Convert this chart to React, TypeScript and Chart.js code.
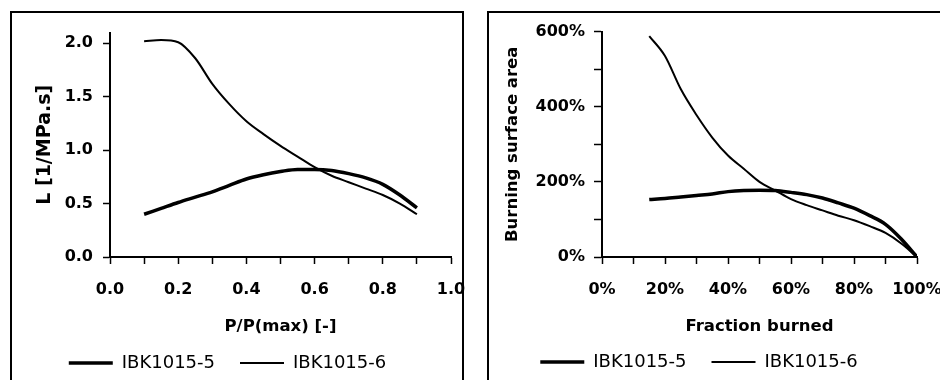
import React, { useEffect, useRef } from 'react';
import { Chart, registerables } from 'chart.js';

Chart.register(...registerables);

// ---------- data ----------
const seriesNames = ['IBK1015-5', 'IBK1015-6'];

// Left panel: L vs P/P(max)
const pressureRatio = [0.1, 0.15, 0.2, 0.25, 0.3, 0.35, 0.4, 0.45, 0.5, 0.55, 0.6, 0.65, 0.7, 0.75, 0.8, 0.85, 0.9];
const lossIBK5 = [0.4, 0.455, 0.51, 0.56, 0.61, 0.67, 0.73, 0.77, 0.8, 0.82, 0.82, 0.81, 0.78, 0.74, 0.68, 0.58, 0.46];
const lossIBK6 = [2.02, 2.03, 2.01, 1.86, 1.62, 1.43, 1.27, 1.15, 1.04, 0.94, 0.84, 0.76, 0.7, 0.64, 0.58, 0.5, 0.4];
const leftYTicks = [0, 0.5, 1.0, 1.5, 2.0];

// Right panel: burning surface area (%) vs fraction burned (%)
const fractionBurned = [15, 20, 25, 30, 35, 40, 45, 50, 55, 60, 65, 70, 75, 80, 85, 90, 95, 100];
const surfaceIBK5 = [153, 156, 160, 164, 168, 174, 177, 178, 177, 172, 166, 157, 144, 130, 110, 87, 48, 0];
const surfaceIBK6 = [588, 535, 447, 378, 318, 270, 235, 200, 177, 154, 138, 124, 110, 98, 82, 64, 36, 0];

const leftTitles = { x: 'P/P(max) [-]', y: 'L [1/MPa.s]' };
const rightTitles = { x: 'Fraction burned', y: 'Burning surface area' };

// ---------- helpers ----------
const FAMILY = "'DejaVu Sans', sans-serif";
const lineWidths = [3.5, 2];

function makeLegendShift(dx: number, dy: number) {
  return {
    id: 'legendShift',
    afterLayout(chart: any) {
      const l = chart.legend;
      if (!l) return;
      l.left += dx;
      l.right += dx;
      l.top += dy;
      l.bottom += dy;
    },
  };
}

function buildDatasets(xs: number[], a: number[], b: number[]) {
  return [a, b].map((ys, i) => ({
    label: seriesNames[i],
    data: xs.map((x, j) => ({ x, y: ys[j] })),
    borderColor: '#000',
    backgroundColor: '#000',
    borderWidth: lineWidths[i],
    pointRadius: 0,
    pointStyle: 'line',
    cubicInterpolationMode: 'monotone' as const,
    fill: false,
  }));
}

function axisCommon() {
  return {
    type: 'linear' as const,
    border: { display: true, color: '#000', width: 2 },
    grid: { display: true, drawOnChartArea: false, drawTicks: true, tickLength: 7, tickColor: '#000', tickWidth: 1.5 },
  };
}

function legendOpts() {
  return {
    display: true,
    position: 'bottom' as const,
    labels: {
      usePointStyle: true,
      pointStyle: 'line',
      pointStyleWidth: 44,
      padding: 25,
      color: '#000',
      font: { family: FAMILY, size: 18, weight: 'normal' as const },
    },
  };
}

// x tick labels: label centre = axis + tick + lineHeight/2 (no extra padding, so no extra right overhang)
const xTickFont = { family: FAMILY, size: 16, weight: 'bold', lineHeight: 3.25 };

function LeftChart() {
  const ref = useRef<HTMLCanvasElement>(null);
  useEffect(() => {
    const chart = new Chart(ref.current!, {
      type: 'line',
      data: { datasets: buildDatasets(pressureRatio, lossIBK5, lossIBK6) as any },
      plugins: [makeLegendShift(-4, -8)],
      options: {
        animation: false,
        responsive: false,
        layout: { padding: { top: 14, left: 0, right: 21, bottom: 0 } },
        plugins: { legend: legendOpts() as any, tooltip: { enabled: false } },
        scales: {
          x: {
            ...axisCommon(),
            min: 0,
            max: 1,
            ticks: {
              stepSize: 0.1,
              autoSkip: false,
              maxRotation: 0,
              padding: 0,
              color: '#000',
              font: xTickFont,
              callback: (v: any) => (Math.round(Number(v) * 10) % 2 === 0 ? Number(v).toFixed(1) : ''),
            },
            title: { display: true, text: leftTitles.x, color: '#000', padding: { top: 0, bottom: 0 }, font: { family: FAMILY, size: 16.5, weight: 'bold' } },
            afterFit: (s: any) => { s.height = 80; },
          },
          y: {
            ...axisCommon(),
            min: 0,
            max: 2.1,
            afterBuildTicks: (s: any) => {
              s.ticks = leftYTicks.map((value) => ({ value }));
            },
            ticks: {
              padding: 10,
              color: '#000',
              font: { family: FAMILY, size: 16, weight: 'bold' },
              callback: (v: any) => Number(v).toFixed(1),
            },
            title: { display: true, text: leftTitles.y, color: '#000', padding: { top: 21.6, bottom: 0 }, font: { family: FAMILY, size: 19, weight: 'bold' } },
            afterFit: (s: any) => { s.width = 98; },
          },
        },
      } as any,
    });
    return () => chart.destroy();
  }, []);
  return <canvas ref={ref} width={460} height={377} style={{ position: 'absolute', left: 12, top: 13, width: 460, height: 377 }} />;
}

function RightChart() {
  const ref = useRef<HTMLCanvasElement>(null);
  useEffect(() => {
    const chart = new Chart(ref.current!, {
      type: 'line',
      data: { datasets: buildDatasets(fractionBurned, surfaceIBK5, surfaceIBK6) as any },
      plugins: [makeLegendShift(-4, -9)],
      options: {
        animation: false,
        responsive: false,
        layout: { padding: { top: 17, left: 0, right: 32, bottom: 0 } },
        plugins: { legend: legendOpts() as any, tooltip: { enabled: false } },
        scales: {
          x: {
            ...axisCommon(),
            min: 0,
            max: 100,
            ticks: {
              stepSize: 10,
              autoSkip: false,
              maxRotation: 0,
              padding: 0,
              color: '#000',
              font: xTickFont,
              callback: (v: any) => (Math.round(Number(v)) % 20 === 0 ? Math.round(Number(v)) + '%' : ''),
            },
            title: { display: true, text: rightTitles.x, color: '#000', padding: { top: 0, bottom: 0 }, font: { family: FAMILY, size: 16.5, weight: 'bold' } },
            afterFit: (s: any) => { s.height = 80; },
          },
          y: {
            ...axisCommon(),
            min: 0,
            max: 600,
            grid: { display: true, drawOnChartArea: false, drawTicks: true, tickLength: 8, tickColor: '#000', tickWidth: 1.5 },
            ticks: {
              stepSize: 100,
              padding: 9,
              color: '#000',
              font: { family: FAMILY, size: 16, weight: 'bold' },
              callback: (v: any) => (Math.round(Number(v)) % 200 === 0 ? Math.round(Number(v)) + '%' : ''),
            },
            title: { display: true, text: rightTitles.y, color: '#000', padding: { top: 14, bottom: 0 }, font: { family: FAMILY, size: 16.5, weight: 'bold' } },
            afterFit: (s: any) => { s.width = 113; },
          },
        },
      } as any,
    });
    return () => chart.destroy();
  }, []);
  return <canvas ref={ref} width={460} height={377} style={{ position: 'absolute', left: 489, top: 13, width: 460, height: 377 }} />;
}

export default function App() {
  return (
    <div style={{ position: 'fixed', left: 0, top: 0, width: 940, height: 380, overflow: 'hidden', background: '#fff' }}>
      <LeftChart />
      <RightChart />
      <div style={{ position: 'absolute', left: 10, top: 11, width: 454, height: 420, border: '2px solid #000', boxSizing: 'border-box', pointerEvents: 'none' }} />
      <div style={{ position: 'absolute', left: 487, top: 11, width: 520, height: 420, border: '2px solid #000', boxSizing: 'border-box', pointerEvents: 'none' }} />
    </div>
  );
}
